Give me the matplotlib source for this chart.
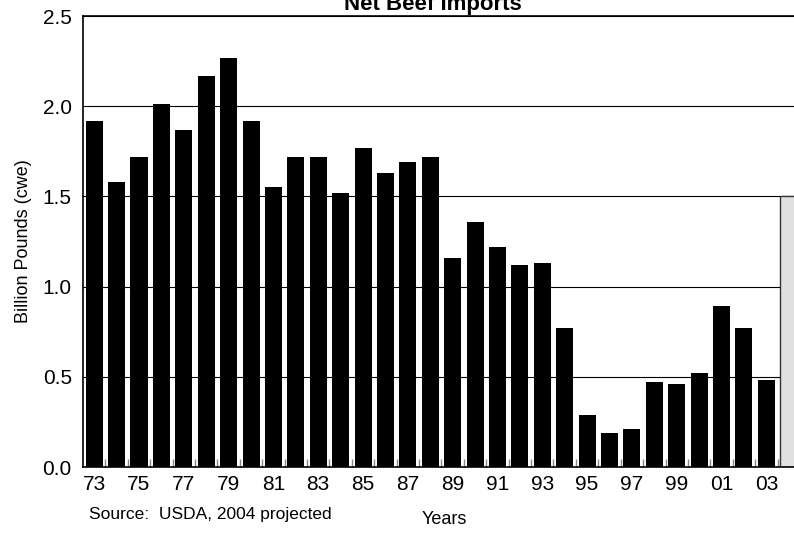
import matplotlib
matplotlib.use('Agg')
import matplotlib.pyplot as plt
from matplotlib import font_manager
import numpy as np

names = {f.name for f in font_manager.fontManager.ttflist}
fam = 'Liberation Sans Narrow' if 'Liberation Sans Narrow' in names else 'Liberation Sans'
plt.rcParams['font.family'] = [fam, 'DejaVu Sans']

years = list(range(1973, 2004))
imports = [1.92, 1.58, 1.72, 2.01, 1.87, 2.17, 2.27, 1.92, 1.55, 1.72,
           1.72, 1.52, 1.77, 1.63, 1.69, 1.72, 1.16, 1.36, 1.22, 1.12,
           1.13, 0.77, 0.29, 0.19, 0.21, 0.47, 0.46, 0.52, 0.89, 0.77, 0.48]
proj_year = 2004
proj_value = 1.5
tick_years = years[::2]
tick_labels = ['%02d' % (y % 100) for y in tick_years]

fig = plt.figure(figsize=(7.94, 5.35), dpi=100)
ax = fig.add_axes([0.1045, 0.127, 0.903, 0.843])

ax.bar(years, imports, width=0.76, color='black', zorder=2)
ax.bar([proj_year], [proj_value], width=0.76, color='#e0e0e0',
       edgecolor='#333333', linewidth=1, zorder=2)

ax.set_xlim(1972.5, 2004.5)
ax.set_ylim(0, 2.5)
ax.set_yticks([0, 0.5, 1.0, 1.5, 2.0, 2.5])
ax.set_yticklabels(['0.0', '0.5', '1.0', '1.5', '2.0', '2.5'])
ax.yaxis.grid(True, color='black', linewidth=0.8, zorder=0)
ax.set_axisbelow(True)

ax.set_xticks(tick_years)
ax.set_xticklabels(tick_labels)
ax.set_xticks(np.arange(1973.5, 2004.5, 1), minor=True)
ax.tick_params(axis='x', which='major', length=0, labelsize=15, pad=6)
ax.tick_params(axis='x', which='minor', direction='in', length=6,
               color='#888888', width=1)
ax.tick_params(axis='y', length=0, labelsize=15, pad=8)

ax.spines['right'].set_visible(False)
for s in ['left', 'bottom', 'top']:
    ax.spines[s].set_linewidth(1.2)

ax.set_ylabel('Billion Pounds (cwe)', fontsize=13, labelpad=8)
fig.text(0.56, 0.02, 'Years', fontsize=13, ha='center')
fig.text(0.112, 0.03, 'Source:  USDA, 2004 projected', fontsize=12.5)
# title sits partly above the top edge, as in the source image
fig.text(0.545, 0.992, 'Net Beef Imports', fontsize=16, fontweight='bold',
         ha='center', va='center')

fig.savefig('out.png', dpi=100)
